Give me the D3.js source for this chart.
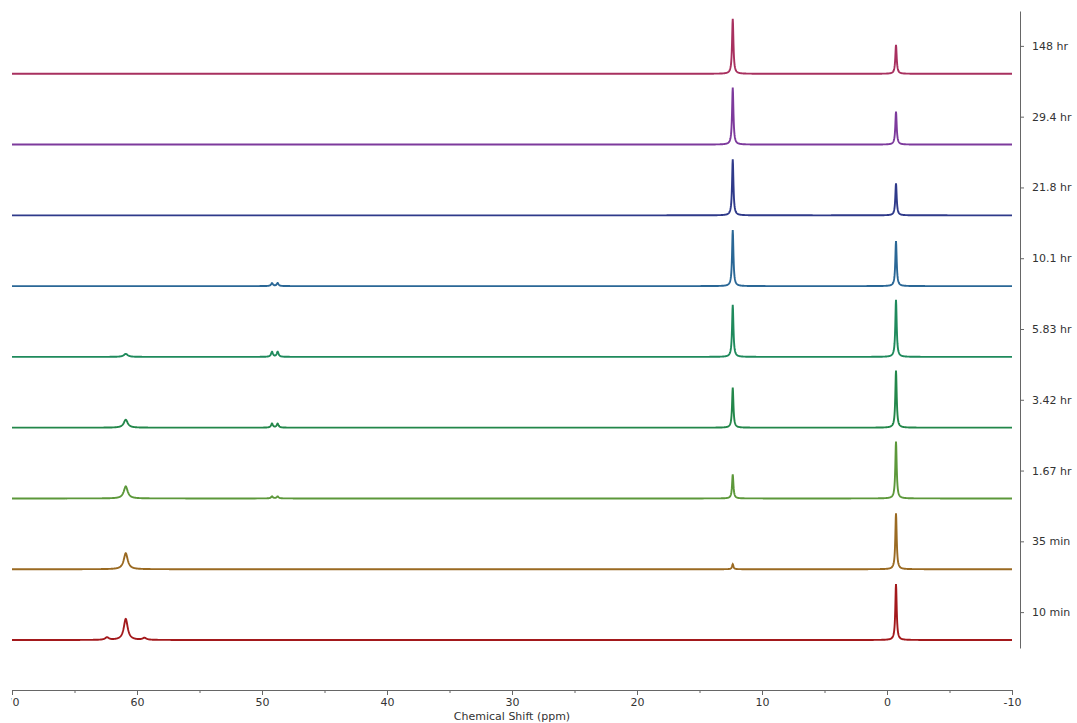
<!DOCTYPE html>
<html>
<head>
<meta charset="utf-8">
<script src="https://cdn.jsdelivr.net/npm/d3@7"></script>
<style>
  body { margin: 0; background: #fff; }
  svg { display: block; font-family: "DejaVu Sans", Verdana, sans-serif; }
</style>
</head>
<body>
<svg width="1077" height="723"></svg>
<script>
// spectra, top to bottom
var labels = ["148 hr", "29.4 hr", "21.8 hr", "10.1 hr", "5.83 hr", "3.42 hr", "1.67 hr", "35 min", "10 min"];
var colors = ["#a8305f", "#7d3a9c", "#2f3a8a", "#2a6796", "#1f8a5c", "#23874a", "#5c983a", "#9a6a22", "#a3191c"];

// peak positions (ppm)
var shifts = [62.4, 60.9, 59.4, 49.2, 48.75, 12.34, -0.72];
var widths = [0.35, 0.38, 0.35, 0.18, 0.18, 0.13, 0.13];

// peak heights (one array per shift)
var h624 = [0, 0, 0, 0, 0, 0, 0, 0, 2.5];
var h609 = [0, 0, 0, 0, 3, 8, 12, 16, 21];
var h594 = [0, 0, 0, 0, 0, 0, 0, 0, 2];
var h492 = [0, 0, 0, 3, 5, 4, 2, 0, 0];
var h4875 = [0, 0, 0, 3, 5, 4, 2, 0, 0];
var h1234 = [55, 57, 56, 56, 52, 40, 24, 5, 0];
var h072 = [29, 33, 32, 45, 57, 57, 57, 56, 56];
var heights = [h624, h609, h594, h492, h4875, h1234, h072];

var xTicks = [70, 60, 50, 40, 30, 20, 10, 0, -10];
var xMinor = [65, 55, 45, 35, 25, 15, 5, -5];

var svg = d3.select("svg");

var x = d3.scaleLinear().domain([70, -10]).range([12, 1012]);
var band = d3.scaleBand().domain(labels).range([11, 648]);
var y = d3.scaleLinear().domain([0, 60]).range([0, 60]);

var ppm = d3.range(70, -10.0001, -0.02);

function spectrum(i) {
    return ppm.map(function (p) {
        var v = 0;
        shifts.forEach(function (s, k) {
            var h = heights[k][i];
            if (!h) return;
            var d = (p - s) / (widths[k] / 2);
            v += h / (1 + d * d);
        });
        return [p, v];
    });
}

labels.forEach(function (lab, i) {
    var base = band(lab) + band.bandwidth() - 8;
    var line = d3.line()
        .x(function (d) { return x(d[0]); })
        .y(function (d) { return base - y(d[1]); });
    svg.append("path")
        .datum(spectrum(i))
        .attr("fill", "none")
        .attr("stroke", colors[i])
        .attr("stroke-width", 1.9)
        .attr("d", line);
});

// bottom axis, cropped at the left edge like the source image
svg.append("clipPath").attr("id", "clipx")
    .append("rect").attr("x", 11.5).attr("y", 0).attr("width", 1077).attr("height", 723);

var gx = svg.append("g")
    .attr("clip-path", "url(#clipx)")
    .append("g")
    .attr("transform", "translate(0,690)");

gx.call(d3.axisBottom(x).tickValues(xTicks).tickSize(5).tickSizeOuter(0).tickPadding(3)
    .tickFormat(function (d) { return String(d); }));
gx.append("g").call(d3.axisBottom(x).tickValues(xMinor).tickSize(3).tickFormat(""))
    .select(".domain").remove();

gx.selectAll("path, line").attr("stroke", "#666");
gx.selectAll("text").attr("font-size", "11px").attr("fill", "#333")
    .attr("font-family", "DejaVu Sans, Verdana, sans-serif");

svg.append("text")
    .attr("x", 512)
    .attr("y", 720)
    .attr("text-anchor", "middle")
    .attr("font-size", "11px")
    .attr("fill", "#333")
    .text("Chemical Shift (ppm)");

// right axis with spectrum labels
var gy = svg.append("g")
    .attr("transform", "translate(1020,0)")
    .call(d3.axisRight(band).tickSize(4).tickSizeOuter(0).tickPadding(8));
gy.selectAll("path, line").attr("stroke", "#666");
gy.selectAll("text").attr("font-size", "11px").attr("fill", "#333")
    .attr("font-family", "DejaVu Sans, Verdana, sans-serif");
</script>
</body>
</html>
